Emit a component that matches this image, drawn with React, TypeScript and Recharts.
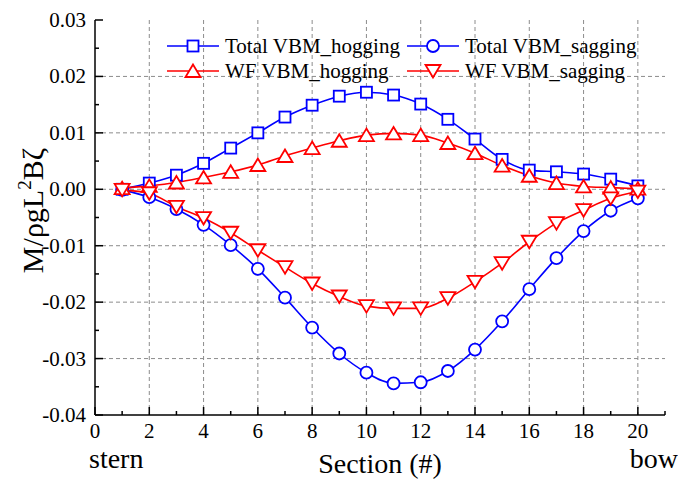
import { CartesianGrid, Line, LineChart, XAxis, YAxis } from "recharts";

const SECTIONS = [1, 2, 3, 4, 5, 6, 7, 8, 9, 10, 11, 12, 13, 14, 15, 16, 17, 18, 19, 20];

const TOTAL_HOG = [
  0.0, 0.0011, 0.0025, 0.0046, 0.0073, 0.01, 0.0128, 0.0149, 0.0165, 0.0172,
  0.0167, 0.0151, 0.0124, 0.0089, 0.0053, 0.0034, 0.0031, 0.0027, 0.0018, 0.0006,
];
const TOTAL_SAG = [
  -0.0001, -0.0014, -0.0035, -0.0063, -0.0099, -0.0141, -0.0192, -0.0245, -0.0291, -0.0325,
  -0.0344, -0.0342, -0.0322, -0.0284, -0.0234, -0.0177, -0.0122, -0.0074, -0.0038, -0.0016,
];
const WF_HOG = [
  0.0002, 0.0006, 0.0012, 0.0021, 0.0031, 0.0043, 0.0059, 0.0073, 0.0086, 0.0096,
  0.0099, 0.0096, 0.0082, 0.0064, 0.0042, 0.0024, 0.0011, 0.0005, 0.0003, 0.0001,
];
const WF_SAG = [
  -0.0001, -0.0007, -0.0031, -0.0051, -0.0077, -0.0108, -0.0138, -0.0167, -0.019, -0.0207,
  -0.0211, -0.0211, -0.0193, -0.0164, -0.0131, -0.0093, -0.006, -0.0037, -0.0016, -0.0004,
];

const X_MAJOR = [0, 2, 4, 6, 8, 10, 12, 14, 16, 18, 20];
const X_MINOR = [1, 3, 5, 7, 9, 11, 13, 15, 17, 19, 21];
const Y_MAJOR = [-0.04, -0.03, -0.02, -0.01, 0.0, 0.01, 0.02, 0.03];
const Y_MINOR = [-0.035, -0.025, -0.015, -0.005, 0.005, 0.015, 0.025];
const X_GRID = [2, 4, 6, 8, 10, 12, 14, 16, 18, 20];
const Y_GRID = [-0.03, -0.02, -0.01, 0.0, 0.01, 0.02];

const BLUE = "#0000ff";
const RED = "#ff0000";
const FONT = "Liberation Serif, Times New Roman, serif";

const data = SECTIONS.map((s, i) => ({
  section: s,
  totalHog: TOTAL_HOG[i],
  totalSag: TOTAL_SAG[i],
  wfHog: WF_HOG[i],
  wfSag: WF_SAG[i],
}));

const X_TICKS = [...X_MAJOR, ...X_MINOR].sort((a, b) => a - b);
const Y_TICKS = [...Y_MAJOR, ...Y_MINOR].sort((a, b) => a - b);

type Shape = "square" | "circle" | "up" | "down";

function Marker({ cx, cy, shape, color }: { cx: number; cy: number; shape: Shape; color: string }) {
  const sw = 1.8;
  if (shape === "square")
    return <rect x={cx - 5.5} y={cy - 5.5} width={11} height={11} fill="#fff" stroke={color} strokeWidth={sw} />;
  if (shape === "circle") return <circle cx={cx} cy={cy} r={6} fill="#fff" stroke={color} strokeWidth={sw} />;
  const pts =
    shape === "up"
      ? `${cx},${cy - 6.5} ${cx - 7.5},${cy + 6} ${cx + 7.5},${cy + 6}`
      : `${cx},${cy + 6.5} ${cx - 7.5},${cy - 6} ${cx + 7.5},${cy - 6}`;
  return <polygon points={pts} fill="#fff" stroke={color} strokeWidth={sw} />;
}

const dot = (shape: Shape, color: string) => (p: any) =>
  <Marker key={`${shape}-${p.index}`} cx={p.cx} cy={p.cy} shape={shape} color={color} />;

const isMajorX = (v: number) => X_MAJOR.includes(v);
const isMajorY = (v: number) => Y_MAJOR.some((m) => Math.abs(m - v) < 1e-9);

function BottomTick(p: any) {
  const v = p.payload.value;
  const major = isMajorX(v);
  return (
    <g>
      <line x1={p.x} x2={p.x} y1={p.y} y2={p.y - (major ? 8 : 4)} stroke="#000" strokeWidth={1.5} />
      {major && (
        <text x={p.x} y={p.y + 23} textAnchor="middle" fontFamily={FONT} fontSize={21} fill="#000">
          {v}
        </text>
      )}
    </g>
  );
}

function TopTick(p: any) {
  const major = isMajorX(p.payload.value);
  return <line x1={p.x} x2={p.x} y1={p.y} y2={p.y + (major ? 8 : 4)} stroke="#000" strokeWidth={1.5} />;
}

function LeftTick(p: any) {
  const v = p.payload.value;
  const major = isMajorY(v);
  return (
    <g>
      <line x1={p.x} x2={p.x + (major ? 8 : 4)} y1={p.y} y2={p.y} stroke="#000" strokeWidth={1.5} />
      {major && (
        <text x={p.x - 9} y={p.y + 7} textAnchor="end" fontFamily={FONT} fontSize={21} fill="#000">
          {v.toFixed(2)}
        </text>
      )}
    </g>
  );
}

function RightTick(p: any) {
  const major = isMajorY(p.payload.value);
  return <line x1={p.x} x2={p.x - (major ? 8 : 4)} y1={p.y} y2={p.y} stroke="#000" strokeWidth={1.5} />;
}

function XTitle(props: any) {
  const { x, y, width } = props.viewBox;
  return (
    <g fontFamily={FONT} fill="#000">
      <text x={x - 6} y={y + 53} fontSize={28}>stern</text>
      <text x={x + width / 2} y={y + 58} fontSize={28} textAnchor="middle">Section (#)</text>
      <text x={x + width + 13} y={y + 53} fontSize={28} textAnchor="end">bow</text>
    </g>
  );
}

function YTitle(props: any) {
  const { y, height } = props.viewBox;
  const cx = 43;
  const cy = y + height / 2 - 7;
  return (
    <text
      x={cx}
      y={cy}
      transform={`rotate(-90, ${cx}, ${cy})`}
      textAnchor="middle"
      fontFamily={FONT}
      fontSize={30}
      fill="#000"
    >
      M/ρgL
      <tspan dy={-12} fontSize={19}>2</tspan>
      <tspan dy={12}>Bζ</tspan>
    </text>
  );
}

const LEGEND_ITEMS: { label: string; shape: Shape; color: string }[] = [
  { label: "Total VBM_hogging", shape: "square", color: BLUE },
  { label: "Total VBM_sagging", shape: "circle", color: BLUE },
  { label: "WF VBM_hogging", shape: "up", color: RED },
  { label: "WF VBM_sagging", shape: "down", color: RED },
];

function ChartLegend() {
  return (
    <div
      style={{
        position: "absolute",
        left: 167,
        top: 33,
        display: "grid",
        gridTemplateColumns: "240px 240px",
        fontFamily: FONT,
        fontSize: 21,
        color: "#000",
      }}
    >
      {LEGEND_ITEMS.map((it) => (
        <div key={it.label} style={{ display: "flex", alignItems: "center", height: 25 }}>
          <svg width={52} height={20} style={{ marginRight: 6, flexShrink: 0 }}>
            <line x1={0} x2={52} y1={10} y2={10} stroke={it.color} strokeWidth={1.5} />
            <Marker cx={26} cy={10} shape={it.shape} color={it.color} />
          </svg>
          <span style={{ lineHeight: "20px", whiteSpace: "nowrap" }}>{it.label}</span>
        </div>
      ))}
    </div>
  );
}

export default function App() {
  return (
    <div style={{ position: "absolute", left: 0, top: 0, width: 678, height: 482, background: "#fff" }}>
      <LineChart width={678} height={482} data={data} margin={{ top: 20, right: 13, left: 0, bottom: 0 }}>
        <XAxis
          xAxisId="top"
          orientation="top"
          dataKey="section"
          type="number"
          domain={[0, 21]}
          ticks={X_TICKS}
          interval={0}
          height={0}
          tickSize={0}
          tickMargin={0}
          tickLine={false}
          tick={<TopTick />}
          axisLine={{ stroke: "#000", strokeWidth: 1.5 }}
          allowDataOverflow
        />
        <YAxis
          yAxisId="right"
          orientation="right"
          type="number"
          domain={[-0.04, 0.03]}
          ticks={Y_TICKS}
          interval={0}
          width={0}
          tickSize={0}
          tickMargin={0}
          tickLine={false}
          tick={<RightTick />}
          axisLine={{ stroke: "#000", strokeWidth: 1.5 }}
          allowDataOverflow
        />
        <XAxis
          xAxisId="x"
          dataKey="section"
          type="number"
          domain={[0, 21]}
          ticks={X_TICKS}
          interval={0}
          height={67}
          tickSize={0}
          tickMargin={0}
          tickLine={false}
          tick={<BottomTick />}
          axisLine={{ stroke: "#000", strokeWidth: 1.5 }}
          label={<XTitle />}
          allowDataOverflow
        />
        <YAxis
          yAxisId="y"
          type="number"
          domain={[-0.04, 0.03]}
          ticks={Y_TICKS}
          interval={0}
          width={95}
          tickSize={0}
          tickMargin={0}
          tickLine={false}
          tick={<LeftTick />}
          axisLine={{ stroke: "#000", strokeWidth: 1.5 }}
          label={<YTitle />}
          allowDataOverflow
        />
        <CartesianGrid
          xAxisId="x"
          yAxisId="y"
          verticalValues={X_GRID}
          horizontalValues={Y_GRID}
          stroke="#8c8c8c"
          strokeDasharray="4 3"
          strokeWidth={1}
        />
        <Line xAxisId="x" yAxisId="y" type="monotone" dataKey="totalHog" stroke={BLUE} strokeWidth={1.6} dot={dot("square", BLUE)} isAnimationActive={false} />
        <Line xAxisId="x" yAxisId="y" type="monotone" dataKey="totalSag" stroke={BLUE} strokeWidth={1.6} dot={dot("circle", BLUE)} isAnimationActive={false} />
        <Line xAxisId="x" yAxisId="y" type="monotone" dataKey="wfHog" stroke={RED} strokeWidth={1.6} dot={dot("up", RED)} isAnimationActive={false} />
        <Line xAxisId="x" yAxisId="y" type="monotone" dataKey="wfSag" stroke={RED} strokeWidth={1.6} dot={dot("down", RED)} isAnimationActive={false} />
      </LineChart>
      <ChartLegend />
    </div>
  );
}
